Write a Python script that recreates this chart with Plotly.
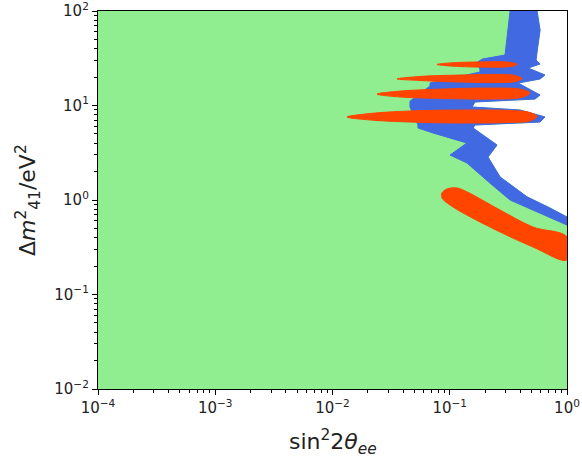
import plotly.graph_objects as go

# Axis ticks
x_tickvals = [1e-4, 1e-3, 1e-2, 1e-1, 1.0]
x_ticktext = ["10<sup>−4</sup>", "10<sup>−3</sup>", "10<sup>−2</sup>", "10<sup>−1</sup>", "10<sup>0</sup>"]
y_tickvals = [1e-2, 1e-1, 1.0, 10.0, 100.0]
y_ticktext = ["10<sup>−2</sup>", "10<sup>−1</sup>", "10<sup>0</sup>", "10<sup>1</sup>", "10<sup>2</sup>"]

# Green region (sin^2 2theta_ee, dm2_41 in eV^2): whole plane left of the outer boundary
green_x = [1e-4, 1e-4, 0.555, 0.589, 0.555, 0.544, 0.589, 0.465, 0.649, 0.589, 0.382, 0.438,
           0.589, 0.533, 0.164, 0.155, 0.397, 0.649, 0.589, 0.164, 0.158, 0.253, 0.212, 0.269,
           0.456, 0.716, 1.0, 1.0]
green_y = [0.01, 100, 100, 62.9, 38.7, 30.3, 27.5, 24.9, 21.0, 19.1, 17.3, 15.7,
           12.9, 11.7, 10.9, 9.64, 8.96, 7.56, 6.69, 6.22, 5.78, 3.82, 2.85, 1.75,
           1.08, 0.822, 0.661, 0.01]

# Blue region: band along the boundary
blue_x = [0.327, 0.555, 0.589, 0.555, 0.544, 0.589, 0.465, 0.649, 0.589, 0.382, 0.438,
          0.589, 0.533, 0.164, 0.155, 0.397, 0.649, 0.589, 0.164, 0.158, 0.253, 0.212, 0.269,
          0.456, 0.716, 1.0,
          1.0, 0.589, 0.327, 0.220, 0.140, 0.1005, 0.140, 0.0719, 0.0536, 0.0536, 0.0458,
          0.0458, 0.0679, 0.0679, 0.181, 0.181, 0.170, 0.190, 0.296, 0.327]
blue_y = [100, 100, 62.9, 38.7, 30.3, 27.5, 24.9, 21.0, 19.1, 17.3, 15.7,
          12.9, 11.7, 10.9, 9.64, 8.96, 7.56, 6.69, 6.22, 5.78, 3.82, 2.85, 1.75,
          1.08, 0.822, 0.661,
          0.543, 0.728, 1.0, 1.51, 2.47, 2.99, 4.01, 5.12, 5.78, 6.22, 9.64,
          11.1, 16.1, 17.3, 22.6, 24.3, 28.5, 31.0, 34.2, 100]

# Red islands
red1_x = [0.0778, 0.1005, 0.181, 0.327, 0.375, 0.327, 0.181, 0.1005]
red1_y = [27.2, 28.2, 28.9, 28.6, 27.2, 25.8, 25.5, 26.2]

red2_x = [0.0355, 0.0557, 0.122, 0.269, 0.360, 0.413, 0.360, 0.269, 0.122, 0.0557]
red2_y = [19.1, 20.3, 21.0, 21.3, 20.8, 19.3, 17.9, 17.5, 17.7, 18.4]

red3_x = [0.0240, 0.0377, 0.0826, 0.220, 0.397, 0.483, 0.413, 0.220, 0.0826, 0.0377]
red3_y = [13.2, 14.2, 14.9, 15.3, 14.9, 13.6, 12.2, 11.7, 11.9, 12.3]

red4_x = [0.0133, 0.0209, 0.0458, 0.122, 0.327, 0.483, 0.555, 0.483, 0.327, 0.122, 0.0458, 0.0209]
red4_y = [7.56, 8.23, 8.75, 8.96, 8.85, 8.43, 7.65, 6.85, 6.61, 6.53, 6.69, 7.03]

red5_x = [0.0859, 0.0948, 0.1153, 0.140, 0.269, 0.513, 1.0, 1.0, 0.513, 0.269, 0.140, 0.1005, 0.0859]
red5_y = [1.19, 1.31, 1.34, 1.22, 0.783, 0.518, 0.406, 0.232, 0.318, 0.458, 0.693, 0.885, 1.05]

GREEN = "#90EE90"
BLUE = "#4169E1"
RED = "#FF4500"

fig = go.Figure()

def poly(x, y, color, shape="linear"):
    fig.add_trace(go.Scatter(x=x + [x[0]], y=y + [y[0]], mode="lines", fill="toself",
                             fillcolor=color, line=dict(color=color, width=1, shape=shape),
                             hoverinfo="skip", showlegend=False))

poly(green_x, green_y, GREEN)
poly(blue_x, blue_y, BLUE)
for rx, ry in [(red1_x, red1_y), (red2_x, red2_y), (red3_x, red3_y), (red4_x, red4_y)]:
    poly(rx, ry, RED, "spline")
poly(red5_x, red5_y, RED, "spline")

minor_x = [m * 10 ** e for e in range(-4, 0) for m in range(2, 10)]
minor_y = [m * 10 ** e for e in range(-2, 2) for m in range(2, 10)]

axis_common = dict(
    type="log", showgrid=False, zeroline=False, showline=True, mirror=True,
    linecolor="black", linewidth=1.3, ticks="outside", ticklen=5, tickwidth=1.2,
    tickcolor="black", tickfont=dict(family="DejaVu Sans", size=15, color="#222"),
    automargin=False, ticklabeloverflow="allow",
)

fig.update_xaxes(range=[-4, 0], tickvals=x_tickvals, ticktext=x_ticktext,
                 minor=dict(tickvals=minor_x, ticks="outside", ticklen=3, tickcolor="black"),
                 **axis_common)
fig.update_yaxes(range=[-2, 2], tickvals=y_tickvals, ticktext=y_ticktext,
                 minor=dict(tickvals=minor_y, ticks="outside", ticklen=3, tickcolor="black"),
                 **axis_common)

fig.add_annotation(text="sin<sup>2</sup>2<i>θ</i><sub><i>ee</i></sub>", xref="paper", yref="paper",
                   x=0.5, y=0, yshift=-53, showarrow=False, xanchor="center", yanchor="middle",
                   font=dict(family="DejaVu Sans", size=22, color="#222"))
fig.add_annotation(text="Δ<i>m</i><sup>2</sup><sub>41</sub>/eV<sup>2</sup>", xref="paper", yref="paper",
                   x=0, y=0.5, xshift=-70, showarrow=False, textangle=-90,
                   xanchor="center", yanchor="middle",
                   font=dict(family="DejaVu Sans", size=22, color="#222"))

fig.update_layout(
    width=582, height=464,
    margin=dict(l=98, r=15, t=11, b=75, autoexpand=False),
    paper_bgcolor="white", plot_bgcolor="white",
)

fig.write_html("out.html", config={"displayModeBar": False},
               post_script="document.body.style.margin='0';document.body.style.overflow='hidden';")
